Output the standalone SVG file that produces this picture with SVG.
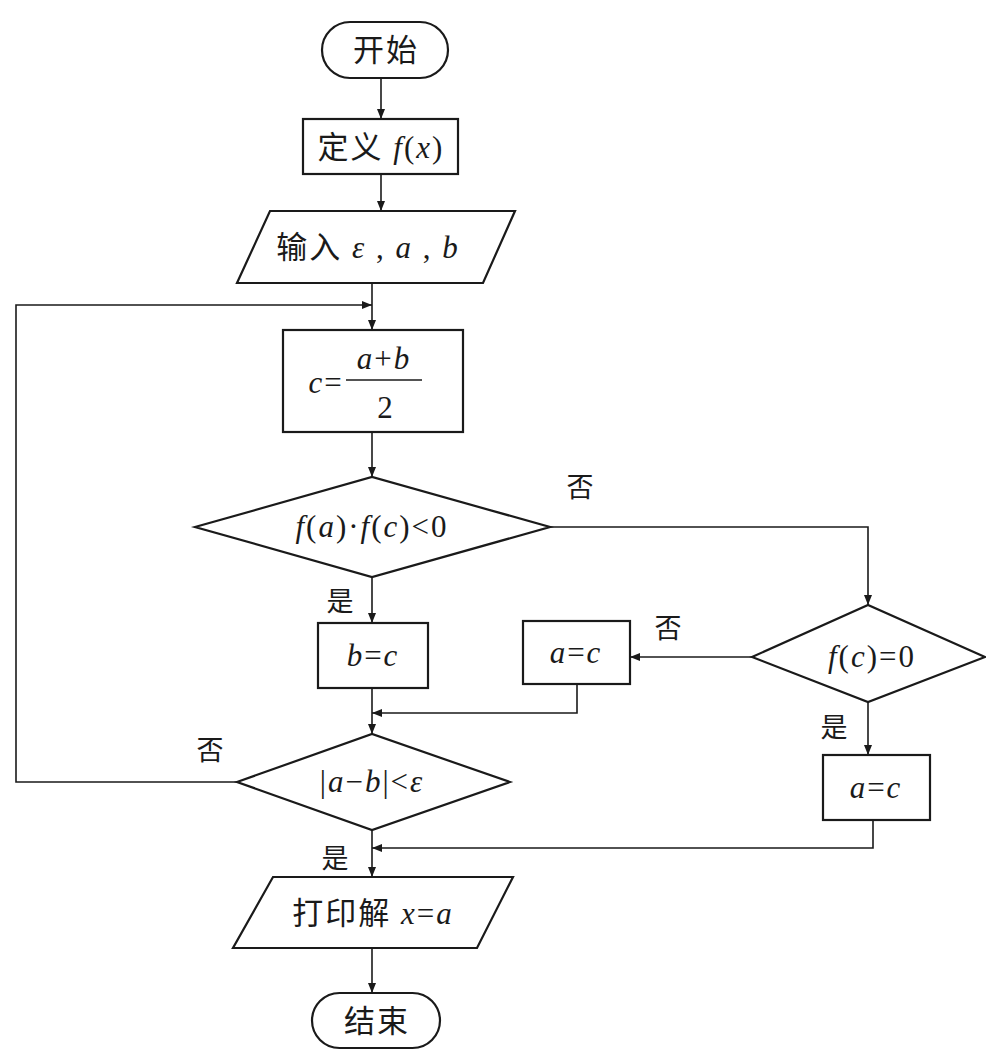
<svg xmlns="http://www.w3.org/2000/svg" width="986" height="1054" viewBox="0 0 986 1054">
<style>
.s{fill:#fff;stroke:#1a1a1a;stroke-width:2.2}
.c{fill:none;stroke:#1a1a1a;stroke-width:1.6}
.zh{font-family:"Liberation Serif","Noto Sans CJK SC",serif;font-size:31px;fill:#1a1a1a;letter-spacing:2px}
.m{font-family:"Liberation Serif","Noto Sans CJK SC",serif;font-size:31px;fill:#1a1a1a;letter-spacing:2px}
.i{font-style:italic}
.lb{font-family:"Liberation Serif","Noto Sans CJK SC",serif;font-size:27px;fill:#1a1a1a}
</style>
<defs>
<marker id="ah" viewBox="0 0 10 8" refX="10" refY="4" markerWidth="10" markerHeight="8" markerUnits="userSpaceOnUse" orient="auto">
<path d="M0,0 L10,4 L0,8 Z" fill="#1a1a1a"/>
</marker>
</defs>
<rect width="986" height="1054" fill="#fff"/>

<g id="connectors">
<line class="c" x1="381" y1="78" x2="381" y2="119" marker-end="url(#ah)"/>
<line class="c" x1="381" y1="174" x2="381" y2="211" marker-end="url(#ah)"/>
<line class="c" x1="372" y1="283" x2="372" y2="330" marker-end="url(#ah)"/>
<line class="c" x1="372" y1="432" x2="372" y2="477" marker-end="url(#ah)"/>
<line class="c" x1="372" y1="577" x2="372" y2="623" marker-end="url(#ah)"/>
<line class="c" x1="372" y1="688" x2="372" y2="734" marker-end="url(#ah)"/>
<line class="c" x1="372" y1="830" x2="372" y2="877" marker-end="url(#ah)"/>
<line class="c" x1="372" y1="948" x2="372" y2="993" marker-end="url(#ah)"/>
<polyline class="c" points="550,527 868,527 868,605" marker-end="url(#ah)"/>
<line class="c" x1="752" y1="657" x2="630" y2="657" marker-end="url(#ah)"/>
<line class="c" x1="868" y1="702" x2="868" y2="755" marker-end="url(#ah)"/>
<polyline class="c" points="577,684 577,713 372,713" marker-end="url(#ah)"/>
<polyline class="c" points="873,820 873,848 372,848" marker-end="url(#ah)"/>
<polyline class="c" points="237,782 16,782 16,305 372,305" marker-end="url(#ah)"/>
<text class="lb" x="580" y="497" text-anchor="middle">否</text>
<text class="lb" x="668" y="638" text-anchor="middle">否</text>
<text class="lb" x="834" y="737" text-anchor="middle">是</text>
<text class="lb" x="340" y="611" text-anchor="middle">是</text>
<text class="lb" x="210" y="760" text-anchor="middle">否</text>
<text class="lb" x="335" y="868" text-anchor="middle">是</text>
</g>

<g id="start">
<rect class="s" x="322" y="22" width="126" height="56" rx="28" ry="28"/>
<text class="zh" x="386" y="61" text-anchor="middle">开始</text>
</g>

<g id="define">
<rect class="s" x="303" y="119" width="155" height="55"/>
<text class="zh" x="381" y="158" text-anchor="middle">定义 <tspan class="i">f</tspan>(<tspan class="i">x</tspan>)</text>
</g>

<g id="input">
<polygon class="s" points="270,211 515,211 483,283 237,283"/>
<text class="zh" x="368" y="258" text-anchor="middle">输入 <tspan class="i">ε</tspan> , <tspan class="i">a</tspan> , <tspan class="i">b</tspan></text>
</g>

<g id="mid">
<rect class="s" x="283" y="330" width="180" height="102"/>
<text class="m" x="326" y="393" text-anchor="middle"><tspan class="i">c</tspan>=</text>
<line x1="346" y1="380" x2="422" y2="380" stroke="#1a1a1a" stroke-width="1.3"/>
<text class="m" x="384" y="369" text-anchor="middle"><tspan class="i">a</tspan>+<tspan class="i">b</tspan></text>
<text class="m" x="386" y="418" text-anchor="middle">2</text>
</g>

<g id="cond1">
<polygon class="s" points="195,527 372,477 550,527 372,577"/>
<text class="m" x="372" y="537" text-anchor="middle"><tspan class="i">f</tspan>(<tspan class="i">a</tspan>)·<tspan class="i">f</tspan>(<tspan class="i">c</tspan>)&lt;0</text>
</g>

<g id="cond2">
<polygon class="s" points="752,657 868,605 985,657 868,702"/>
<text class="m" x="872" y="667" text-anchor="middle"><tspan class="i">f</tspan>(<tspan class="i">c</tspan>)=0</text>
</g>

<g id="bc">
<rect class="s" x="318" y="623" width="110" height="65"/>
<text class="m" x="373" y="666" text-anchor="middle"><tspan class="i">b</tspan>=<tspan class="i">c</tspan></text>
</g>

<g id="ac1">
<rect class="s" x="523" y="621" width="107" height="63"/>
<text class="m" x="576" y="663" text-anchor="middle"><tspan class="i">a</tspan>=<tspan class="i">c</tspan></text>
</g>

<g id="ac2">
<rect class="s" x="823" y="755" width="107" height="65"/>
<text class="m" x="876" y="798" text-anchor="middle"><tspan class="i">a</tspan>=<tspan class="i">c</tspan></text>
</g>

<g id="cond3">
<polygon class="s" points="237,782 372,734 510,782 372,830"/>
<text class="m" x="372" y="792" text-anchor="middle">|<tspan class="i">a</tspan>−<tspan class="i">b</tspan>|&lt;<tspan class="i">ε</tspan></text>
</g>

<g id="print">
<polygon class="s" points="273,877 513,877 477,948 233,948"/>
<text class="zh" x="373" y="924" text-anchor="middle">打印解 <tspan class="i">x</tspan>=<tspan class="i">a</tspan></text>
</g>

<g id="end">
<rect class="s" x="312" y="993" width="128" height="55" rx="27.5" ry="27.5"/>
<text class="zh" x="377" y="1032" text-anchor="middle">结束</text>
</g>
</svg>
